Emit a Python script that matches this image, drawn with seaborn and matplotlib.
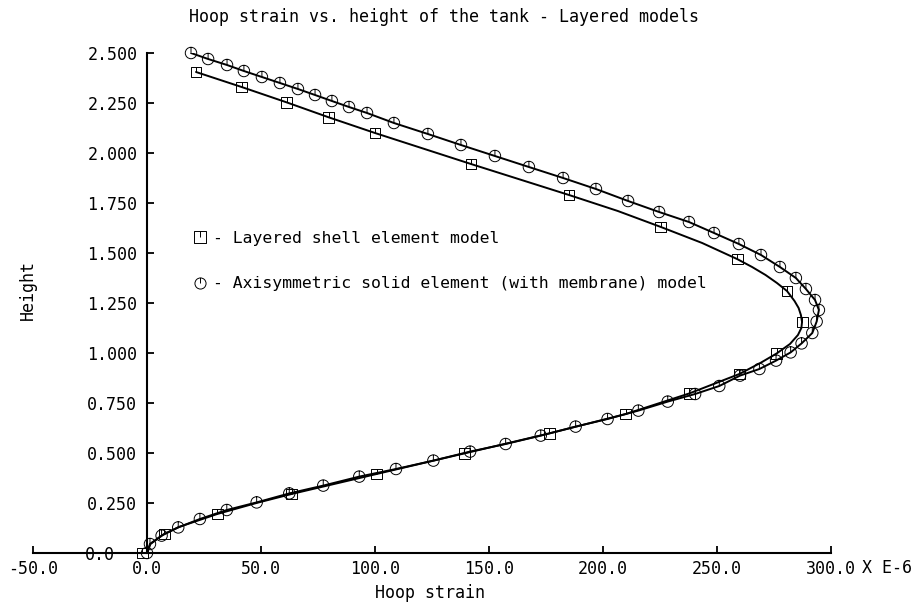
import numpy as np
import matplotlib
matplotlib.use("Agg")
import matplotlib.pyplot as plt
from matplotlib.path import Path
from matplotlib.lines import Line2D
import matplotlib.transforms as mtransforms
import seaborn as sns

# Layered shell element model (markers)
shell_x = [-2.0, 7.5, 30.8, 63.4, 100.7, 139.2, 176.5, 210.0, 237.9, 259.8, 276.2,
           287.3, 280.7, 258.8, 225.4, 185.1, 142.1, 100.0, 79.8, 61.3, 41.5, 21.5]
shell_y = [0.0, 0.095, 0.195, 0.295, 0.395, 0.498, 0.598, 0.695, 0.798, 0.895, 0.998,
           1.155, 1.31, 1.47, 1.63, 1.79, 1.945, 2.10, 2.178, 2.253, 2.33, 2.405]

# Layered shell element model (curve as traced)
shell_line_x = [0.0, 1.5, 7.5, 14.0, 30.8, 48.0, 63.4, 100.7, 139.2, 176.5, 210.0, 237.9,
                259.8, 269.0, 276.2, 282.0, 285.5, 287.0, 287.3, 286.8, 285.8, 284.0, 280.7,
                276.3, 271.3, 265.4, 258.8, 243.5, 225.4, 206.5, 185.1, 142.1, 100.0, 79.8,
                61.3, 41.5, 21.5]
shell_line_y = [0.0, 0.045, 0.095, 0.13, 0.195, 0.25, 0.295, 0.395, 0.498, 0.598, 0.695, 0.798,
                0.895, 0.95, 0.998, 1.045, 1.09, 1.125, 1.155, 1.19, 1.225, 1.26, 1.31,
                1.35, 1.39, 1.43, 1.47, 1.55, 1.63, 1.71, 1.79, 1.945, 2.10, 2.178,
                2.253, 2.33, 2.405]

# Axisymmetric solid element (with membrane) model
axi_x = [0.0, 1.3, 6.4, 13.7, 23.2, 35.0, 48.1, 62.4, 77.3, 93.1, 109.2, 125.6, 141.7,
         157.3, 172.7, 188.0, 202.0, 215.5, 228.4, 240.4, 251.0, 260.1, 268.6, 275.9,
         282.3, 287.1, 291.8, 293.7, 294.7, 293.0, 289.0, 284.6, 277.6, 269.3, 259.6,
         248.7, 237.7, 224.6, 211.0, 196.9, 182.5, 167.5, 152.6, 137.7, 123.2, 108.3,
         96.5, 88.6, 81.1, 73.7, 66.2, 58.3, 50.4, 42.5, 35.1, 26.8, 19.3]
axi_y = [0.0, 0.045, 0.087, 0.128, 0.17, 0.215, 0.253, 0.298, 0.337, 0.382, 0.42, 0.462,
         0.507, 0.545, 0.587, 0.632, 0.67, 0.712, 0.757, 0.795, 0.835, 0.887, 0.92, 0.962,
         1.003, 1.048, 1.10, 1.157, 1.215, 1.265, 1.32, 1.375, 1.43, 1.49, 1.545, 1.60,
         1.655, 1.705, 1.76, 1.82, 1.875, 1.93, 1.985, 2.04, 2.095, 2.15, 2.20, 2.23,
         2.26, 2.29, 2.32, 2.35, 2.38, 2.41, 2.44, 2.47, 2.50]

x_ticks = [-50, 0, 50, 100, 150, 200, 250, 300]
x_ticklabels = ["-50.0", "0.0", "50.0", "100.0", "150.0", "200.0", "250.0", "300.0"]
y_ticks = [0, 0.25, 0.5, 0.75, 1.0, 1.25, 1.5, 1.75, 2.0, 2.25, 2.5]
y_ticklabels = ["0.0", "0.250", "0.500", "0.750", "1.000", "1.250", "1.500",
                "1.750", "2.000", "2.250", "2.500"]

labels = ["- Layered shell element model",
          "- Axisymmetric solid element (with membrane) model"]

# markers: outline with a tick from the top down to the centre
sq_marker = Path([(-1, -1), (1, -1), (1, 1), (-1, 1), (-1, -1), (0, 1), (0, 0)],
                 [Path.MOVETO, Path.LINETO, Path.LINETO, Path.LINETO, Path.CLOSEPOLY,
                  Path.MOVETO, Path.LINETO])
circ_marker = Path.make_compound_path(Path.unit_circle(),
                                      Path([(0, 1), (0, 0)], [Path.MOVETO, Path.LINETO]))

sns.set_style("ticks")
plt.rcParams["font.family"] = ["DejaVu Sans Mono", "DejaVu Sans"]
for k in ("text.color", "axes.labelcolor", "xtick.color", "ytick.color", "axes.edgecolor"):
    plt.rcParams[k] = "black"

W, H = 915, 602
fig = plt.figure(figsize=(W / 100, H / 100), dpi=100)
ax = fig.add_axes([33 / W, (H - 553) / H, 798 / W, 500 / H])

sns.lineplot(x=shell_line_x, y=shell_line_y, sort=False, estimator=None, color="black",
             linewidth=1.4, ax=ax)
sns.lineplot(x=axi_x, y=axi_y, sort=False, estimator=None, color="black",
             linewidth=1.4, ax=ax)
sns.scatterplot(x=shell_x, y=shell_y, marker=sq_marker, s=62, facecolor="none",
                edgecolor="black", linewidth=0.7, ax=ax, clip_on=False, zorder=3)
sns.scatterplot(x=axi_x, y=axi_y, marker=circ_marker, s=68, facecolor="none",
                edgecolor="black", linewidth=0.7, ax=ax, clip_on=False, zorder=3)

ax.set_xlim(-50, 300)
ax.set_ylim(0, 2.5)
ax.spines["top"].set_visible(False)
ax.spines["right"].set_visible(False)
ax.spines["left"].set_position(("data", 0))
for s in ("left", "bottom"):
    ax.spines[s].set_linewidth(1.5)
ax.set_xticks(x_ticks)
ax.set_xticklabels(x_ticklabels)
ax.set_yticks(y_ticks)
ax.set_yticklabels(y_ticklabels)
ax.tick_params(axis="both", direction="in", length=5, width=1.3, labelsize=12, color="black")
ax.tick_params(axis="y", pad=7)
ax.tick_params(axis="x", pad=5)

# the 0.0 height label sits further left in the original
lbl0 = ax.get_yticklabels()[0]
lbl0.set_transform(lbl0.get_transform()
                   + mtransforms.ScaledTranslation(-22 / 100, 0, fig.dpi_scale_trans))

ax.set_xlabel("")
ax.set_ylabel("")
fig.text(444 / W, 1 - 17 / H, "Hoop strain vs. height of the tank - Layered models",
         ha="center", va="center", fontsize=12)
fig.text(430 / W, 1 - 593 / H, "Hoop strain", ha="center", va="center", fontsize=12)
fig.text(28 / W, 1 - 290 / H, "Height", ha="center", va="center", rotation=90, fontsize=12)
fig.text(862 / W, 1 - 568 / H, "X E-6", ha="left", va="center", fontsize=12)

handles = [Line2D([], [], linestyle="none", marker=sq_marker, markersize=8,
                  markerfacecolor="none", markeredgecolor="black", markeredgewidth=0.7),
           Line2D([], [], linestyle="none", marker=circ_marker, markersize=8,
                  markerfacecolor="none", markeredgecolor="black", markeredgewidth=0.7)]
ax.legend(handles, labels, loc="upper left", bbox_to_anchor=(192 / W, 1 - 231 / H),
          bbox_transform=fig.transFigure, frameon=False, fontsize=11.8, handlelength=1.0,
          handletextpad=0.3, labelspacing=1.85, borderpad=0, borderaxespad=0)

fig.savefig("out.png", dpi=100)
